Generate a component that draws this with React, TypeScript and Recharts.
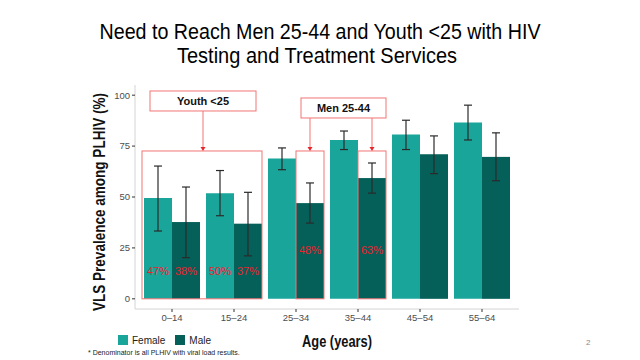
import React from "react";
import { Bar, BarChart, ErrorBar, LabelList, Legend, ReferenceArea, XAxis, YAxis } from "recharts";

const AGE_GROUPS = ["0–14", "15–24", "25–34", "35–44", "45–54", "55–64"];
const FEMALE_VLS = [49.5, 51.9, 68.9, 78.0, 80.7, 86.6];
const FEMALE_LOW = [33.3, 40.8, 63.4, 73.3, 73.3, 78.0];
const FEMALE_HIGH = [65.2, 63.0, 74.1, 82.4, 87.7, 95.1];
const MALE_VLS = [37.7, 36.9, 47.0, 59.3, 71.0, 69.7];
const MALE_LOW = [20.2, 21.1, 37.2, 51.9, 61.5, 58.0];
const MALE_HIGH = [54.9, 52.3, 56.9, 66.7, 80.0, 81.5];
const FEMALE_NOTES = ["47%", "50%", "", "", "", ""];
const MALE_NOTES = ["38%", "37%", "48%", "63%", "", ""];
const YOUTH_GROUPS = ["0–14", "15–24"];
const MEN_GROUPS = ["25–34", "35–44"];
const Y_TICKS = [0, 25, 50, 75, 100];
const HIGHLIGHT_TOP = 72.6;

const FEMALE_COLOR = "#19a59a";
const MALE_COLOR = "#05605a";
const BOX_RED = "#f27474";
const TEXT_RED = "#e8252b";
const FONT = "'Liberation Sans', Arial, sans-serif";

const data = AGE_GROUPS.map((age, i) => ({
  age,
  female: FEMALE_VLS[i],
  femaleErr: [FEMALE_VLS[i] - FEMALE_LOW[i], FEMALE_HIGH[i] - FEMALE_VLS[i]],
  femaleNote: FEMALE_NOTES[i],
  male: MALE_VLS[i],
  maleErr: [MALE_VLS[i] - MALE_LOW[i], MALE_HIGH[i] - MALE_VLS[i]],
  maleNote: MALE_NOTES[i],
}));

function Arrow({ cx, y1, y2 }: { cx: number; y1: number; y2: number }) {
  return (
    <g>
      <line x1={cx} y1={y1} x2={cx} y2={y2 - 3} stroke={BOX_RED} strokeWidth={1} />
      <path d={`M${cx - 2.5},${y2 - 4}L${cx + 2.5},${y2 - 4}L${cx},${y2}Z`} fill={TEXT_RED} />
    </g>
  );
}

function TagBox({ x, y, w, h, text }: { x: number; y: number; w: number; h: number; text: string }) {
  return (
    <g>
      <rect x={x} y={y} width={w} height={h} fill="#fff" stroke={BOX_RED} strokeWidth={1} />
      <text x={x + w / 2} y={y + h / 2 + 4} textAnchor="middle" fontSize={11} fontWeight="bold" fontFamily={FONT} fill="#111">
        {text}
      </text>
    </g>
  );
}

function MaleBar(props: any) {
  const { x, y, width, height, payload } = props;
  const base = y + height;
  const top = base - (HIGHLIGHT_TOP * height) / payload.male;
  const cx = x + width / 2;
  return (
    <g>
      <rect x={x} y={y} width={width} height={height} fill={MALE_COLOR} />
      {MEN_GROUPS.includes(payload.age) && (
        <g>
          <rect x={x} y={top} width={width} height={base - top} fill="none" stroke={BOX_RED} strokeWidth={1} />
          <Arrow cx={cx} y1={top - 33} y2={top} />
        </g>
      )}
    </g>
  );
}

function YouthBox(props: any) {
  const { x, y, width, height } = props;
  const cx = x + width / 2;
  return (
    <g>
      <rect x={x + 1} y={y} width={width - 4} height={height} fill="none" stroke={BOX_RED} strokeWidth={1} />
      <Arrow cx={cx} y1={y - 40} y2={y} />
      <TagBox x={cx - 53} y={y - 60} w={106} h={20} text="Youth <25" />
    </g>
  );
}

function MenTag(props: any) {
  const { x, y, width } = props;
  return <TagBox x={x + 36} y={y - 53} w={width - 39} h={20} text="Men 25-44" />;
}

function NoteLabel(props: any) {
  const { x, y, width, height, value, index } = props;
  if (!value) return null;
  const youth = YOUTH_GROUPS.includes(AGE_GROUPS[index]);
  const base = y + height;
  return (
    <text x={x + width / 2} y={base - (youth ? 24 : 45)} textAnchor="middle" fontSize={11} fontFamily={FONT} fill={TEXT_RED}>
      {value}
    </text>
  );
}

export default function App() {
  const tick = { fontSize: 9.5, fill: "#4d4d4d", fontFamily: FONT };
  return (
    <div style={{ position: "absolute", left: 0, top: 0, width: 640, height: 360, background: "#fff", fontFamily: FONT }}>
      <svg style={{ position: "absolute", left: 0, top: 0 }} width={640} height={70}>
        <text x={320} y={39} textAnchor="middle" fontSize={22} fontFamily={FONT} fill="#000" textLength={441} lengthAdjust="spacingAndGlyphs">
          Need to Reach Men 25-44 and Youth &lt;25 with HIV
        </text>
        <text x={317} y={63} textAnchor="middle" fontSize={22} fontFamily={FONT} fill="#000" textLength={280} lengthAdjust="spacingAndGlyphs">
          Testing and Treatment Services
        </text>
      </svg>
      <BarChart
        width={640}
        height={360}
        data={data}
        margin={{ top: 85, right: 121, bottom: 15, left: 105 }}
        barCategoryGap={3}
        barGap={0}
      >
        <XAxis
          dataKey="age"
          height={20}
          padding={{ left: 6, right: 6 }}
          tick={tick}
          tickSize={3}
          tickLine={{ stroke: "#333" }}
          axisLine={{ stroke: "#d4d4d4" }}
          interval={0}
        />
        <XAxis xAxisId="top" dataKey="age" orientation="top" height={0} tick={false} tickLine={false} axisLine={{ stroke: "#d4d4d4" }} />
        <YAxis
          width={30}
          domain={[-5, 105]}
          ticks={Y_TICKS}
          allowDataOverflow
          tick={tick}
          tickSize={3}
          tickLine={{ stroke: "#333" }}
          axisLine={{ stroke: "#d4d4d4" }}
        />
        <YAxis yAxisId="right" orientation="right" width={0} tick={false} tickLine={false} axisLine={{ stroke: "#d4d4d4" }} />
        <Bar dataKey="female" name="Female" fill={FEMALE_COLOR} isAnimationActive={false}>
          <ErrorBar dataKey="femaleErr" direction="y" width={4} stroke="#2a2a2a" strokeWidth={1.2} isAnimationActive={false} />
          <LabelList dataKey="femaleNote" content={NoteLabel} />
        </Bar>
        <Bar dataKey="male" name="Male" fill={MALE_COLOR} shape={MaleBar} isAnimationActive={false}>
          <ErrorBar dataKey="maleErr" direction="y" width={4} stroke="#2a2a2a" strokeWidth={1.2} isAnimationActive={false} />
          <LabelList dataKey="maleNote" content={NoteLabel} />
        </Bar>
        <ReferenceArea x1={YOUTH_GROUPS[0]} x2={YOUTH_GROUPS[1]} y1={0} y2={HIGHLIGHT_TOP} shape={YouthBox} ifOverflow="visible" zIndex={1500} />
        <ReferenceArea x1={MEN_GROUPS[0]} x2={MEN_GROUPS[1]} y1={0} y2={HIGHLIGHT_TOP} shape={MenTag} ifOverflow="visible" zIndex={1500} />
        <Legend
          align="left"
          iconType="square"
          iconSize={10}
          wrapperStyle={{ position: "absolute", left: 118, top: 332, width: 140, height: 16, lineHeight: "14px" }}
          formatter={(v: string) => <span style={{ color: "#222", fontSize: 10 }}>{v}</span>}
        />
      </BarChart>
      <svg style={{ position: "absolute", left: 0, top: 0, overflow: "visible" }} width={120} height={360}>
        <text
          transform="translate(105,202) rotate(-90)"
          textAnchor="middle"
          fontSize={16}
          fontWeight="bold"
          fontFamily={FONT}
          fill="#111"
          textLength={218}
          lengthAdjust="spacingAndGlyphs"
        >
          VLS Prevalence  among PLHIV (%)
        </text>
      </svg>
      <svg style={{ position: "absolute", left: 260, top: 325 }} width={160} height={35}>
        <text x={77} y={22} textAnchor="middle" fontSize={16} fontWeight="bold" fontFamily={FONT} fill="#111" textLength={70} lengthAdjust="spacingAndGlyphs">
          Age (years)
        </text>
      </svg>
      <div style={{ position: "absolute", left: 88, top: 349, fontSize: 7, color: "#222" }}>
        * Denominator is all PLHIV with viral load results.
      </div>
      <div style={{ position: "absolute", left: 586, top: 338, fontSize: 8, color: "#888" }}>2</div>
    </div>
  );
}
